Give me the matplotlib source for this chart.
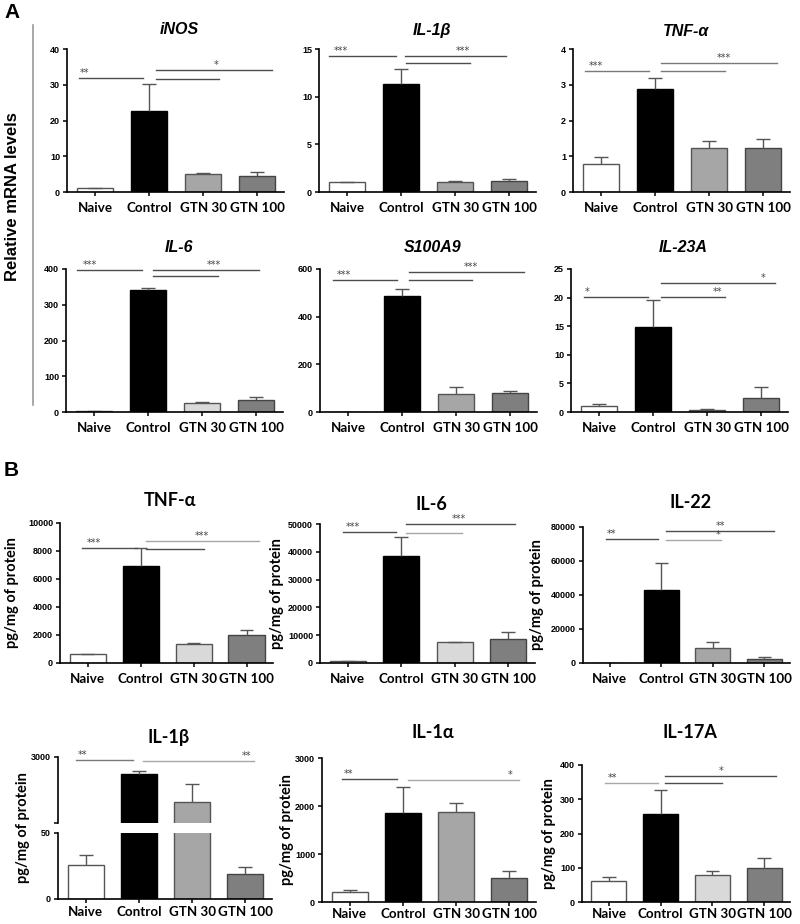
import numpy as np
import matplotlib
matplotlib.use("Agg")
import matplotlib.pyplot as plt
from matplotlib.lines import Line2D

W, H = 800, 924

groups = ["Naive", "Control", "GTN 30", "GTN 100"]

# ── Panel A: relative mRNA levels (mean, upper SEM) ──────────────────────────
inos_mean = [1.0, 22.7, 4.9, 4.5]
inos_err = [0.2, 7.5, 0.3, 1.0]
il1b_a_mean = [1.0, 11.3, 1.0, 1.15]
il1b_a_err = [0.05, 1.6, 0.2, 0.25]
tnf_a_mean = [0.77, 2.88, 1.22, 1.23]
tnf_a_err = [0.2, 0.32, 0.2, 0.24]
il6_a_mean = [3, 340, 26, 34]
il6_a_err = [1, 7, 1, 7]
s100a9_mean = [1, 485, 77, 81]
s100a9_err = [0.5, 33, 28, 7]
il23a_mean = [1.05, 14.8, 0.4, 2.5]
il23a_err = [0.4, 4.7, 0.15, 1.8]

# ── Panel B: protein levels (pg/mg) ──────────────────────────────────────────
tnf_b_mean = [620, 6950, 1340, 1980]
tnf_b_err = [40, 1300, 120, 350]
il6_b_mean = [720, 38400, 7460, 8540]
il6_b_err = [80, 6800, 150, 2640]
il22_mean = [100, 42970, 9100, 2600]
il22_err = [50, 16100, 3300, 950]
il1b_b_mean = [26, 2490, 1650, 19]
il1b_b_err = [7, 100, 540, 5]
il1a_mean = [210, 1856, 1884, 509]
il1a_err = [50, 538, 175, 133]
il17a_mean = [61.5, 255.6, 78, 100.5]
il17a_err = [10.5, 70.4, 12, 28.5]

# significance brackets: (x start, x end, y, stars, star x, shade)
inos_sig = [(-0.3, 0.88, 31.9, "**", -0.2, "d"), (1.12, 2.3, 31.7, "", 0, "d"),
            (1.12, 3.28, 34.2, "*", 2.25, "d")]
il1b_a_sig = [(-0.34, 0.91, 14.3, "***", -0.11, "d"), (1.09, 2.27, 13.5, "", 0, "d"),
              (1.07, 2.94, 14.3, "***", 2.15, "d")]
tnf_a_sig = [(-0.29, 0.89, 3.38, "***", -0.09, "m"), (1.11, 2.29, 3.38, "", 0, "m"),
             (1.11, 3.25, 3.6, "***", 2.27, "m")]
il6_a_sig = [(-0.32, 0.89, 396, "***", -0.07, "d"), (1.09, 2.29, 381, "", 0, "d"),
             (1.09, 3.06, 398, "***", 2.22, "d")]
s100a9_sig = [(-0.27, 0.91, 553, "***", -0.07, "d"), (1.12, 2.3, 553, "", 0, "d"),
              (1.12, 3.26, 586, "***", 2.28, "d")]
il23a_sig = [(-0.28, 0.9, 20.1, "*", -0.22, "d"), (1.14, 2.33, 20.1, "**", 2.2, "d"),
             (1.14, 3.26, 22.5, "*", 3.03, "d")]
tnf_b_sig = [(-0.1, 0.94, 8190, "***", 0.11, "d"), (1.1, 2.2, 8120, "", 0, "d"),
             (1.1, 3.23, 8740, "***", 2.15, "l")]
il6_b_sig = [(-0.09, 0.91, 47000, "***", 0.09, "d"), (1.08, 2.13, 46760, "", 0, "l"),
             (1.08, 3.12, 50000, "***", 2.08, "d")]
il22_sig = [(-0.08, 0.94, 72900, "**", 0.03, "d"), (1.1, 2.16, 72500, "*", 2.1, "l"),
            (1.1, 3.19, 77400, "**", 2.16, "d")]
il1b_b_sig = [(-0.19, 0.89, 2897, "**", -0.06, "m"), (1.08, 3.17, 2867, "**", 3.03, "l")]
il1a_sig = [(-0.15, 0.89, 2561, "**", -0.03, "d"), (1.09, 3.19, 2547, "*", 3.02, "l")]
il17a_sig = [(-0.08, 0.95, 348, "**", 0.06, "l"), (1.09, 2.18, 346, "", 0, "d"),
             (1.09, 3.22, 369, "*", 2.16, "d")]

SHADE = {"d": "#4d4d4d", "m": "#7a7a7a", "l": "#a8a8a8"}
MID, LIGHT = "#a6a6a6", "#d9d9d9"
TICK_FONT = dict(family=["Liberation Sans", "DejaVu Sans"], weight="bold", size=6.5)
LABEL_FAMILY = ["Lato", "DejaVu Sans"]


def px_box(l, t, r, b):
    return [l / W, 1 - b / H, (r - l) / W, (b - t) / H]


def style_axes(ax, bottom=True, xpad=4.5):
    ax.spines[["top", "right"]].set_visible(False)
    ax.spines["left"].set_linewidth(1.2)
    ax.spines["bottom"].set_linewidth(1.2)
    ax.spines["bottom"].set_visible(bottom)
    ax.tick_params(axis="y", direction="out", length=3, width=1.1, pad=2)
    ax.tick_params(axis="x", direction="out", length=3, width=1.1, pad=xpad)
    for lab in ax.get_yticklabels():
        lab.set_fontproperties(TICK_FONT)
    ax.set_xlim(-0.52, 3.5)
    if bottom:
        ax.set_xticks(range(4))
        ax.set_xticklabels(groups, family=LABEL_FAMILY, weight="bold", size=9.6)
    else:
        ax.set_xticks([])


def draw_bars(ax, means, errs, c30):
    x = np.arange(len(groups))
    faces = ["white", "black", c30, "#7f7f7f"]
    edges = ["#555555", "black", "#555555", "#444444"]
    ax.bar(x, means, width=0.68, color=faces, edgecolor=edges, linewidth=1)
    for xi, m, e in zip(x, means, errs):
        ax.vlines(xi, m, m + e, colors="#555555", lw=1)
        ax.hlines(m + e, xi - 0.13, xi + 0.13, colors="#555555", lw=1)


def draw_sig(ax, sig):
    for x0, x1, y, lab, lx, shade in sig:
        ax.plot([x0, x1], [y, y], color=SHADE[shade], lw=1, clip_on=False)
        if lab:
            ax.text(lx, y, lab, ha="center", va="bottom", fontsize=7,
                    color="#444444", clip_on=False)


fig = plt.figure(figsize=(W / 100, H / 100), dpi=100)

# title, means, errs, sig, ylim top, ticks, box (l, t, r, b), GTN30 colour, title y (px), italic
panels = [
    ("iNOS", inos_mean, inos_err, inos_sig, 40, [0, 10, 20, 30, 40], (67, 49, 284, 192), MID, 30, True),
    ("IL-1β", il1b_a_mean, il1b_a_err, il1b_a_sig, 15, [0, 5, 10, 15], (319, 49, 536, 192), MID, 31, True),
    ("TNF-α", tnf_a_mean, tnf_a_err, tnf_a_sig, 4, [0, 1, 2, 3, 4], (573, 49, 790, 192), MID, 31, True),
    ("IL-6", il6_a_mean, il6_a_err, il6_a_sig, 400, [0, 100, 200, 300, 400], (66, 269, 283, 412), LIGHT, 247, True),
    ("S100A9", s100a9_mean, s100a9_err, s100a9_sig, 600, [0, 200, 400, 600], (320, 269, 537, 412), MID, 247, True),
    ("IL-23A", il23a_mean, il23a_err, il23a_sig, 25, [0, 5, 10, 15, 20, 25], (571, 269, 788, 412), MID, 247, True),
    ("TNF-α", tnf_b_mean, tnf_b_err, tnf_b_sig, 10000, [0, 2000, 4000, 6000, 8000, 10000], (60, 523, 273, 663), LIGHT, 500, False),
    ("IL-6", il6_b_mean, il6_b_err, il6_b_sig, 50000, [0, 10000, 20000, 30000, 40000, 50000], (320, 524, 535, 663), LIGHT, 505, False),
    ("IL-22", il22_mean, il22_err, il22_sig, 80000, [0, 20000, 40000, 60000, 80000], (583, 527, 790, 663), MID, 503, False),
    ("IL-1α", il1a_mean, il1a_err, il1a_sig, 3000, [0, 1000, 2000, 3000], (322, 758, 536, 902), MID, 732, False),
    ("IL-17A", il17a_mean, il17a_err, il17a_sig, 400, [0, 100, 200, 300, 400], (582, 765, 790, 902), LIGHT, 733, False),
]

ylabel_x = {60: 12, 320: 277, 583: 537, 322: 287, 582: 549}

for title, means, errs, sig, top, ticks, bx, c30, ty, italic in panels:
    l, t, r, b = bx
    ax = fig.add_axes(px_box(l, t, r, b))
    draw_bars(ax, means, errs, c30)
    ax.set_ylim(0, top)
    ax.set_yticks(ticks)
    ax.set_yticklabels([str(v) for v in ticks])
    style_axes(ax, xpad=1.5 if b > 890 else 4.5)
    draw_sig(ax, sig)
    cx = (l + r) / 2 + 4
    if italic:
        fig.text(cx / W, 1 - ty / H, title, ha="center", va="center", size=11.5,
                 weight="bold", style="italic", family=["Liberation Sans", "DejaVu Sans"])
    else:
        fig.text(cx / W, 1 - ty / H, title, ha="center", va="center", size=13,
                 weight="bold", family=LABEL_FAMILY)
        fig.text(ylabel_x[l] / W, 1 - ((t + b) / 2) / H, "pg/mg of protein", rotation=90,
                 ha="center", va="center", size=10.5, weight="bold", family=LABEL_FAMILY)

# ── IL-1β protein with broken y axis ─────────────────────────────────────────
ax_up = fig.add_axes(px_box(58, 757, 272, 823))
ax_lo = fig.add_axes(px_box(58, 833, 272, 899))
for ax in (ax_up, ax_lo):
    draw_bars(ax, il1b_b_mean, il1b_b_err, MID)
ax_up.set_ylim(1000, 3000)
ax_up.set_yticks([1000, 3000])
ax_up.set_yticklabels(["", "3000"])
style_axes(ax_up, bottom=False)
draw_sig(ax_up, il1b_b_sig)
ax_lo.set_ylim(0, 50)
ax_lo.set_yticks([0, 50])
ax_lo.set_yticklabels(["0", "50"])
style_axes(ax_lo, xpad=1.8)
fig.text((165 + 4) / W, 1 - 737 / H, "IL-1β", ha="center", va="center", size=13,
         weight="bold", family=LABEL_FAMILY)
fig.text(23 / W, 1 - 828 / H, "pg/mg of protein", rotation=90, ha="center", va="center",
         size=10.5, weight="bold", family=LABEL_FAMILY)

# ── Panel furniture ──────────────────────────────────────────────────────────
fig.text(13 / W, 1 - 197 / H, "Relative mRNA levels", rotation=90, ha="center", va="center",
         size=12, weight="bold", family=["Liberation Sans", "DejaVu Sans"])
fig.add_artist(Line2D([33 / W, 33 / W], [1 - 25 / H, 1 - 405 / H], color="#9a9a9a", lw=1.2))
fig.text(4 / W, 1 - 12 / H, "A", ha="left", va="center", size=15, weight="bold",
         family=["Liberation Sans", "DejaVu Sans"])
fig.text(4 / W, 1 - 470 / H, "B", ha="left", va="center", size=15, weight="bold",
         family=["Liberation Sans", "DejaVu Sans"])

fig.savefig("out.png", dpi=100)
